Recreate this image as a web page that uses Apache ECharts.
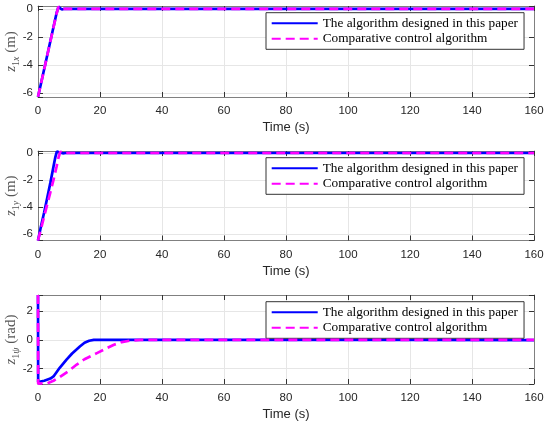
<!DOCTYPE html>
<html><head><meta charset="utf-8">
<script src="https://cdn.jsdelivr.net/npm/echarts@6/dist/echarts.min.js"></script>
<style>html,body{margin:0;padding:0;background:#fff;}#c{width:550px;height:428px;}</style>
</head><body><div id="c"></div>
<script>
// ---- data ----
const nameOurs = 'The algorithm designed in this paper';
const nameComp = 'Comparative control algorithm';
const xLabel = 'Time (s)';

// panel 1: z_1x (m)
const t1Ours = [0, 1, 2, 3, 4, 5, 6, 6.6, 7.1, 7.7, 8.5, 10, 160];
const z1xOurs = [-6.28, -5.3, -4.3, -3.3, -2.3, -1.3, -0.3, 0.14, 0.06, -0.05, 0, 0, 0];
const t1Comp = [0, 1, 2, 3, 4, 5, 6, 6.6, 7.1, 7.7, 8.5, 10, 160];
const z1xComp = [-6.28, -5.32, -4.32, -3.32, -2.32, -1.32, -0.34, 0.15, 0.08, -0.03, 0, 0, 0];

// panel 2: z_1y (m)
const t2Ours = [0, 1, 2, 3, 4, 5, 5.6, 6.1, 6.7, 7.3, 8, 9, 160];
const z1yOurs = [-6.5, -5.4, -4.4, -3.3, -2.2, -1.0, -0.3, 0.12, 0.12, 0.02, -0.02, 0, 0];
const t2Comp = [0, 1, 2, 3, 4, 5, 6, 6.6, 7.2, 7.8, 8.5, 9.5, 160];
const z1yComp = [-6.5, -5.6, -4.7, -3.8, -2.9, -2.0, -1.0, -0.35, 0.1, 0.03, -0.04, 0, 0];

// panel 3: z_1psi (rad)
const t3Ours = [0, 0.05, 2, 4, 5, 7, 9.2, 11, 13.5, 15, 16.5, 18, 20, 40, 80, 120, 160];
const z1psiOurs = [3.14, -2.94, -2.85, -2.7, -2.55, -1.95, -1.38, -0.95, -0.46, -0.2, -0.06, 0, 0.01, 0, 0, 0, -0.01];
const t3Comp = [0, 0.05, 3, 5, 7, 10, 12.5, 15, 19, 22, 24.5, 27, 30, 33, 40, 80, 120, 160];
const z1psiComp = [3.14, -3.05, -3.03, -2.85, -2.6, -2.15, -1.72, -1.35, -0.92, -0.6, -0.34, -0.15, -0.04, 0, 0.01, 0, 0, 0];

const xTickStep = 20;
const yTickStep = 2;

// ---- layout / style ----
const grids = [
  {left: 38, right: 16, top: 6, height: 91, outerBoundsMode: 'none', containLabel: false},
  {left: 38, right: 16, top: 151, height: 89.5, outerBoundsMode: 'none', containLabel: false},
  {left: 38, right: 16, top: 295, height: 89, outerBoundsMode: 'none', containLabel: false}
];
const yRanges = [[-6.3, 0.2], [-6.5, 0.15], [-3.08, 3.14]];
const yNames = [
  '{i|z}{s|1}{si|x}{n| (m)}',
  '{i|z}{s|1}{si|y}{n| (m)}',
  '{i|z}{s|1}{si|ψ}{n| (rad)}'
];
const boxColor = '#808080';
const tickColor = '#333';
const gridColor = '#e6e6e6';
const sansFont = 'Liberation Sans';
const serifFont = 'Liberation Serif';
const labColor = '#555';

const richName = {
  i: {fontFamily: serifFont, fontStyle: 'italic', fontSize: 15, color: labColor, lineHeight: 20, verticalAlign: 'middle'},
  s: {fontFamily: serifFont, fontSize: 10, color: labColor, lineHeight: 14, verticalAlign: 'bottom'},
  si: {fontFamily: serifFont, fontStyle: 'italic', fontSize: 10, color: labColor, lineHeight: 14, verticalAlign: 'bottom'},
  n: {fontFamily: serifFont, fontSize: 15, color: labColor, lineHeight: 20, verticalAlign: 'middle'}
};

const evenFmt = v => (Math.abs(v / yTickStep - Math.round(v / yTickStep)) < 1e-6 ? String(Math.round(v)) : '');

const xAxes = [], yAxes = [];
for (let g = 0; g < 3; g++) {
  xAxes.push({
    type: 'value', gridIndex: g, min: 0, max: 160, interval: xTickStep, position: 'bottom',
    name: xLabel, nameLocation: 'middle', nameGap: 24, nameMoveOverlap: false,
    nameTextStyle: {fontFamily: sansFont, fontSize: 13, color: '#262626'},
    axisLine: {show: true, onZero: false, lineStyle: {color: boxColor, width: 1}},
    axisTick: {show: true, inside: true, length: 5, lineStyle: {color: tickColor}},
    axisLabel: {fontFamily: sansFont, fontSize: 11.5, color: '#262626', margin: 8},
    splitLine: {show: true, lineStyle: {color: gridColor, width: 1}}
  });
  yAxes.push({
    type: 'value', gridIndex: g, min: yRanges[g][0], max: yRanges[g][1],
    minInterval: yTickStep, maxInterval: yTickStep, splitNumber: 4, position: 'left',
    name: yNames[g], nameLocation: 'middle', nameRotate: 90, nameGap: 17, nameMoveOverlap: false,
    nameTextStyle: {rich: richName},
    axisLine: {show: true, onZero: false, lineStyle: {color: boxColor, width: 1}},
    axisTick: {show: true, inside: true, length: 5, lineStyle: {color: tickColor}},
    axisLabel: {fontFamily: sansFont, fontSize: 11.5, color: '#262626', margin: 5, formatter: evenFmt, showMinLabel: true, showMaxLabel: true},
    splitLine: {show: true, lineStyle: {color: gridColor, width: 1}}
  });
}
for (let g = 0; g < 3; g++) {
  xAxes.push({
    type: 'value', gridIndex: g, min: 0, max: 160, interval: xTickStep, position: 'top',
    axisLine: {show: true, onZero: false, lineStyle: {color: boxColor, width: 1}},
    axisTick: {show: true, inside: true, length: 5, lineStyle: {color: tickColor}},
    axisLabel: {show: false}, splitLine: {show: false}
  });
  yAxes.push({
    type: 'value', gridIndex: g, min: yRanges[g][0], max: yRanges[g][1],
    minInterval: yTickStep, maxInterval: yTickStep, splitNumber: 4, position: 'right',
    axisLine: {show: true, onZero: false, lineStyle: {color: boxColor, width: 1}},
    axisTick: {show: true, inside: true, length: 5, lineStyle: {color: tickColor}},
    axisLabel: {show: false}, splitLine: {show: false}
  });
}

const zip = (t, v) => t.map((x, i) => [x, v[i]]);
const oursStyle = {color: '#0000ff', width: 2.7, type: 'solid'};
const compStyle = {color: '#ff00ff', width: 2.7, type: [9, 5]};
const panels = [
  [t1Ours, z1xOurs, t1Comp, z1xComp],
  [t2Ours, z1yOurs, t2Comp, z1yComp],
  [t3Ours, z1psiOurs, t3Comp, z1psiComp]
];
const series = [];
panels.forEach((p, g) => {
  series.push({name: nameOurs, type: 'line', xAxisIndex: g, yAxisIndex: g, data: zip(p[0], p[1]),
    symbol: 'none', showSymbol: false, smooth: false, lineStyle: oursStyle, itemStyle: {color: '#0000ff'}, z: 3});
  series.push({name: nameComp, type: 'line', xAxisIndex: g, yAxisIndex: g, data: zip(p[2], p[3]),
    symbol: 'none', showSymbol: false, smooth: false, lineStyle: compStyle, itemStyle: {color: '#ff00ff'}, z: 4});
});

const legendTops = [12.7, 157.7, 301.7];
const legends = legendTops.map(top => ({
  left: 266, top: top, orient: 'vertical',
  data: [nameOurs, nameComp],
  itemWidth: 46, itemHeight: 12, itemGap: 2.6, padding: [4, 6, 4, 4.7],
  backgroundColor: '#fff', borderColor: '#333', borderWidth: 1,
  itemStyle: {opacity: 0},
  textStyle: {fontFamily: serifFont, fontSize: 13.3, color: '#000'},
  selectedMode: false
}));

const chart = echarts.init(document.getElementById('c'), null, {renderer: 'canvas'});
chart.setOption({
  animation: false,
  backgroundColor: '#fff',
  grid: grids,
  xAxis: xAxes,
  yAxis: yAxes,
  legend: legends,
  series: series
});
</script></body></html>
